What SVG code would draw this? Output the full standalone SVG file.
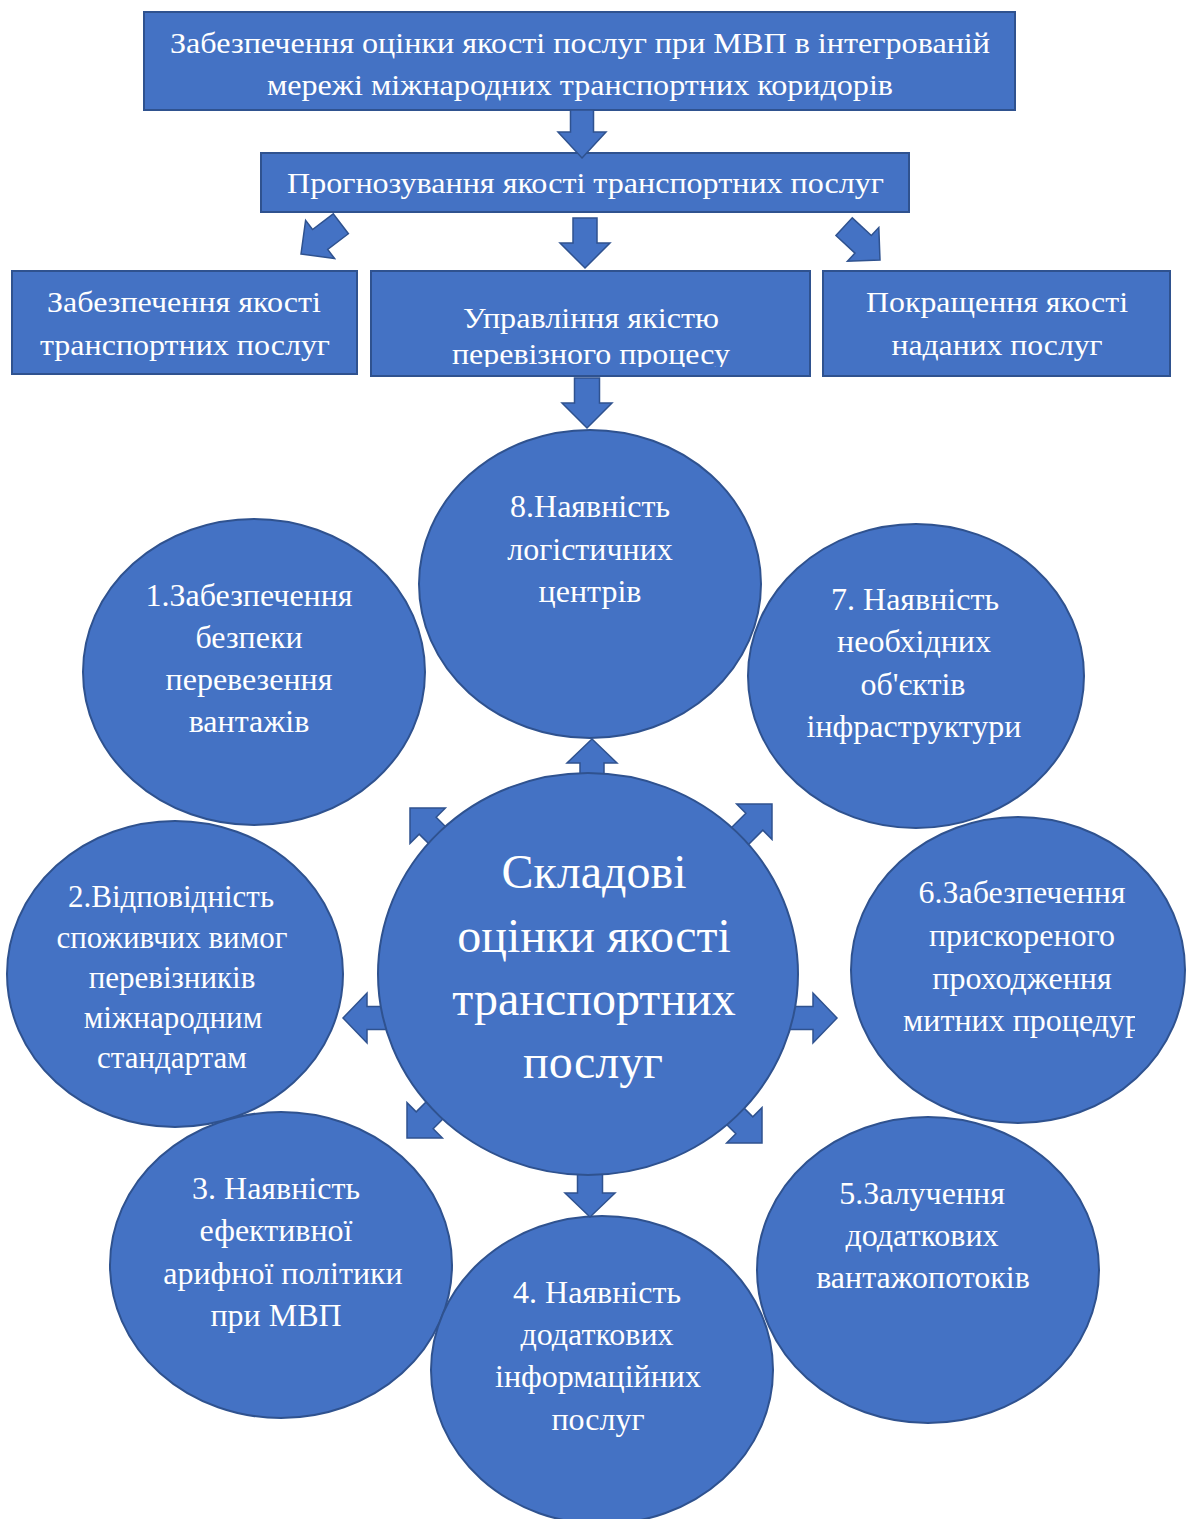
<svg xmlns="http://www.w3.org/2000/svg" width="1188" height="1519" viewBox="0 0 1188 1519">
<defs>
<style>
.box{fill:#4472C4;stroke:#2F528F;stroke-width:2}
.circ{fill:#4472C4;stroke:#2F528F;stroke-width:2}
.arr{fill:#4472C4;stroke:#2F528F;stroke-width:1.5;stroke-linejoin:miter}
text{font-family:"Liberation Serif","Times New Roman",serif;fill:#FFFFFF;text-anchor:middle}
.bt{font-size:30px}
.ct{font-size:32px}
.ct2{font-size:31px}
.big{font-size:48px}
</style>
<clipPath id="clipMid"><rect x="371" y="271" width="440" height="96"/></clipPath>
<clipPath id="clipSix"><rect x="851" y="817" width="284" height="306"/></clipPath>
</defs>
<rect width="1188" height="1519" fill="#FFFFFF"/>

<g id="node-top">
<rect class="box" x="144" y="12" width="871" height="98"/>
<text class="bt" x="580" y="53" textLength="820" lengthAdjust="spacingAndGlyphs">Забезпечення оцінки якості послуг при МВП в інтегрованій</text>
<text class="bt" x="580" y="95" textLength="626" lengthAdjust="spacingAndGlyphs">мережі міжнародних транспортних коридорів</text>
</g>
<g id="node-forecast">
<rect class="box" x="261" y="153" width="648" height="59"/>
<text class="bt" x="585.5" y="193" textLength="597" lengthAdjust="spacingAndGlyphs">Прогнозування якості транспортних послуг</text>
</g>
<g id="node-assurance">
<rect class="box" x="12" y="271" width="345" height="103"/>
<text class="bt" x="184" y="312" textLength="274" lengthAdjust="spacingAndGlyphs">Забезпечення якості</text>
<text class="bt" x="185" y="355" textLength="290" lengthAdjust="spacingAndGlyphs">транспортних послуг</text>
</g>
<g id="node-management">
<rect class="box" x="371" y="271" width="439" height="105"/>
<g clip-path="url(#clipMid)">
<text class="bt" x="591" y="328" textLength="256" lengthAdjust="spacingAndGlyphs">Управління якістю</text>
<text class="bt" x="591" y="364" textLength="278" lengthAdjust="spacingAndGlyphs">перевізного процесу</text>
</g>
</g>
<g id="node-improvement">
<rect class="box" x="823" y="271" width="347" height="105"/>
<text class="bt" x="997" y="312" textLength="262" lengthAdjust="spacingAndGlyphs">Покращення якості</text>
<text class="bt" x="997" y="355" textLength="211" lengthAdjust="spacingAndGlyphs">наданих послуг</text>
</g>

<g id="connectors-top">
<polygon class="arr" transform="translate(582,158) rotate(90)" points="0,0 -26,-24 -26,-11.5 -48,-11.5 -48,11.5 -26,11.5 -26,24"/>
<polygon class="arr" transform="translate(585,268) rotate(90)" points="0,0 -25,-25 -25,-12 -50,-12 -50,12 -25,12 -25,25"/>
<polygon class="arr" transform="translate(301,254) rotate(142.8)" points="0,0 -24,-24 -24,-12.5 -50,-12.5 -50,12.5 -24,12.5 -24,24"/>
<polygon class="arr" transform="translate(880,260) rotate(42.9)" points="0,0 -23,-23 -23,-12 -49,-12 -49,12 -23,12 -23,23"/>
<polygon class="arr" transform="translate(587,428) rotate(90)" points="0,0 -25,-25 -25,-12.5 -50,-12.5 -50,12.5 -25,12.5 -25,25"/>
</g>

<g id="node-1">
<ellipse class="circ" cx="254" cy="672" rx="171" ry="153"/>
<text class="ct" x="249" y="606">1.Забезпечення</text>
<text class="ct" x="249" y="648">безпеки</text>
<text class="ct" x="249" y="690">перевезення</text>
<text class="ct" x="249" y="732">вантажів</text>
</g>
<g id="node-2">
<ellipse class="circ" cx="175" cy="974" rx="168" ry="153"/>
<text class="ct2" x="171" y="907">2.Відповідність</text>
<text class="ct2" x="172" y="948">споживчих вимог</text>
<text class="ct2" x="172" y="988">перевізників</text>
<text class="ct2" x="173" y="1028">міжнародним</text>
<text class="ct2" x="172" y="1068">стандартам</text>
</g>
<g id="node-3">
<ellipse class="circ" cx="281" cy="1265" rx="171" ry="153"/>
<text class="ct" x="276" y="1199">3. Наявність</text>
<text class="ct" x="276" y="1241">ефективної</text>
<text class="ct" x="283" y="1284">арифної політики</text>
<text class="ct" x="276" y="1326">при МВП</text>
</g>
<g id="node-8">
<ellipse class="circ" cx="590" cy="584" rx="171" ry="154"/>
<text class="ct" x="590" y="517">8.Наявність</text>
<text class="ct" x="590" y="560">логістичних</text>
<text class="ct" x="590" y="602">центрів</text>
</g>
<g id="node-7">
<ellipse class="circ" cx="916" cy="676" rx="168" ry="152"/>
<text class="ct" x="915" y="610">7. Наявність</text>
<text class="ct" x="914" y="652">необхідних</text>
<text class="ct" x="913" y="695">об'єктів</text>
<text class="ct" x="914" y="737">інфраструктури</text>
</g>
<g id="node-6">
<ellipse class="circ" cx="1018" cy="970" rx="167" ry="153"/>
<g clip-path="url(#clipSix)">
<text class="ct" x="1022" y="903">6.Забезпечення</text>
<text class="ct" x="1022" y="946">прискореного</text>
<text class="ct" x="1022" y="989">проходження</text>
<text class="ct" x="1022" y="1031">митних процедур</text>
</g>
</g>
<g id="node-4">
<ellipse class="circ" cx="602" cy="1370" rx="171" ry="154"/>
<text class="ct" x="597" y="1303">4. Наявність</text>
<text class="ct" x="597" y="1345">додаткових</text>
<text class="ct" x="598" y="1387">інформаційних</text>
<text class="ct" x="598" y="1430">послуг</text>
</g>
<g id="node-5">
<ellipse class="circ" cx="928" cy="1270" rx="171" ry="153"/>
<text class="ct" x="922" y="1204">5.Залучення</text>
<text class="ct" x="922" y="1246">додаткових</text>
<text class="ct" x="923" y="1288">вантажопотоків</text>
</g>

<g id="connectors-center">
<polygon class="arr" transform="translate(592,739) rotate(-90)" points="0,0 -24,-25 -24,-12 -55,-12 -55,12 -24,12 -24,25"/>
<polygon class="arr" transform="translate(590,1217) rotate(90)" points="0,0 -24,-25 -24,-12.5 -60,-12.5 -60,12.5 -24,12.5 -24,25"/>
<polygon class="arr" transform="translate(343,1018) rotate(180)" points="0,0 -24,-25 -24,-11.5 -60,-11.5 -60,11.5 -24,11.5 -24,25"/>
<polygon class="arr" transform="translate(837,1018)" points="0,0 -24,-25 -24,-11.5 -60,-11.5 -60,11.5 -24,11.5 -24,25"/>
<polygon class="arr" transform="translate(410,808) rotate(-135)" points="0,0 -25,-25 -25,-12 -65,-12 -65,12 -25,12 -25,25"/>
<polygon class="arr" transform="translate(772,804) rotate(-45)" points="0,0 -25,-25 -25,-12 -65,-12 -65,12 -25,12 -25,25"/>
<polygon class="arr" transform="translate(407,1138) rotate(135)" points="0,0 -25,-25 -25,-12 -65,-12 -65,12 -25,12 -25,25"/>
<polygon class="arr" transform="translate(762,1143) rotate(45)" points="0,0 -25,-25 -25,-12 -65,-12 -65,12 -25,12 -25,25"/>
</g>

<g id="node-center">
<ellipse class="circ" cx="588" cy="974" rx="210" ry="201"/>
<text class="big" x="594" y="888">Складові</text>
<text class="big" x="594" y="952">оцінки якості</text>
<text class="big" x="594" y="1015">транспортних</text>
<text class="big" x="593" y="1078">послуг</text>
</g>
</svg>
